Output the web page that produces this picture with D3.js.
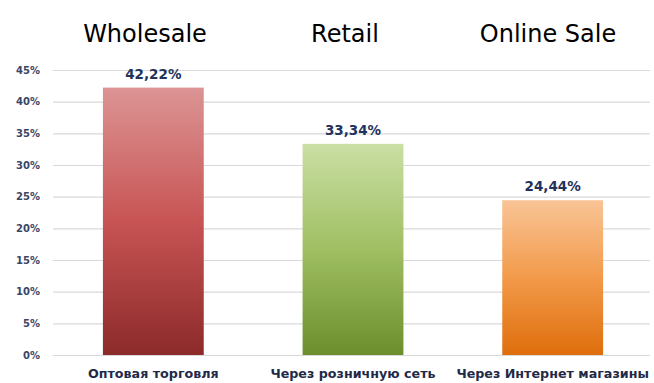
<!DOCTYPE html>
<html>
<head>
<meta charset="utf-8">
<script src="https://cdnjs.cloudflare.com/ajax/libs/d3/7.8.5/d3.min.js"></script>
<style>
  body { margin: 0; background: #fff; }
  .title { font-family: "DejaVu Sans", sans-serif; font-size: 24px; fill: #000; }
  .tick text { font-family: "DejaVu Sans", sans-serif; font-weight: bold; font-size: 10px; fill: #3a4668; }
  .cat { font-family: "DejaVu Sans", sans-serif; font-weight: bold; font-size: 12.7px; fill: #1f2a48; }
  .val { font-family: "DejaVu Sans", sans-serif; font-weight: bold; font-size: 13.5px; fill: #22325a; }
</style>
</head>
<body>
<script>
var w = 654;
var h = 383;

var categories = ["Оптовая торговля", "Через розничную сеть", "Через Интернет магазины"];
var titles = ["Wholesale", "Retail", "Online Sale"];
var values = [42.22, 33.34, 24.44];
var valueLabels = ["42,22%", "33,34%", "24,44%"];
var yTicks = [0, 5, 10, 15, 20, 25, 30, 35, 40, 45];
var barColors = [
  ["#dc9494", "#c85454", "#8c2a2a"],
  ["#cadfa4", "#9fbf62", "#6c8e2c"],
  ["#f9c496", "#f29a4a", "#df6e0c"]
];

var svg = d3.select("body")
            .append("svg")
            .attr("width", w)
            .attr("height", h);

var x = d3.scaleBand()
          .domain(categories)
          .range([53, 653])
          .paddingInner(0.495)
          .paddingOuter(0.25);

var y = d3.scaleLinear()
          .domain([0, 45])
          .range([355, 70]);

// gradients for each bar
var defs = svg.append("defs");
barColors.forEach(function(c, i) {
  var g = defs.append("linearGradient")
    .attr("id", "grad" + i)
    .attr("x1", 0).attr("y1", 0)
    .attr("x2", 0).attr("y2", 1);
  g.append("stop").attr("offset", "0%").attr("stop-color", c[0]);
  g.append("stop").attr("offset", "50%").attr("stop-color", c[1]);
  g.append("stop").attr("offset", "100%").attr("stop-color", c[2]);
});

// gridlines + y labels
var yAxis = d3.axisLeft(y)
  .tickValues(yTicks)
  .tickSize(-597)
  .tickPadding(13)
  .tickFormat(function(d) { return d + "%"; });

var ga = svg.append("g")
  .attr("transform", "translate(53,0)")
  .call(yAxis);
ga.select(".domain").remove();
ga.selectAll(".tick line").attr("stroke", "#d9d9d9").attr("stroke-width", 1.2);

// bars
svg.selectAll(".bar")
  .data(values)
  .enter()
  .append("rect")
  .attr("class", "bar")
  .attr("x", function(d, i) { return x(categories[i]); })
  .attr("y", function(d) { return y(d); })
  .attr("width", x.bandwidth())
  .attr("height", function(d) { return y(0) - y(d); })
  .attr("fill", function(d, i) { return "url(#grad" + i + ")"; });

// value labels
svg.selectAll(".val")
  .data(values)
  .enter()
  .append("text")
  .attr("class", "val")
  .attr("text-anchor", "middle")
  .attr("x", function(d, i) { return x(categories[i]) + x.bandwidth() / 2; })
  .attr("y", function(d) { return y(d) - 9; })
  .text(function(d, i) { return valueLabels[i]; });

// category labels
svg.selectAll(".cat")
  .data(categories)
  .enter()
  .append("text")
  .attr("class", "cat")
  .attr("text-anchor", "middle")
  .attr("x", function(d) { return x(d) + x.bandwidth() / 2; })
  .attr("y", 378)
  .text(function(d) { return d; });

// titles above
var titleX = [145, 345, 548];
svg.selectAll(".title")
  .data(titles)
  .enter()
  .append("text")
  .attr("class", "title")
  .attr("text-anchor", "middle")
  .attr("x", function(d, i) { return titleX[i]; })
  .attr("y", 42)
  .text(function(d) { return d; });
</script>
</body>
</html>
